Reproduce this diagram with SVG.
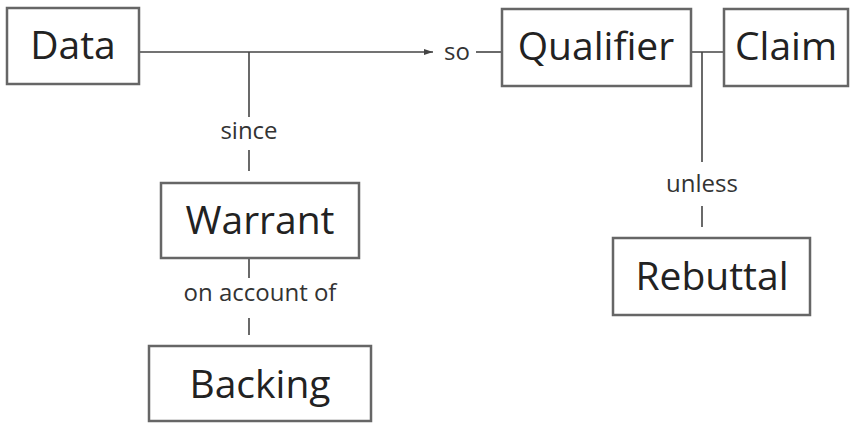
<svg xmlns="http://www.w3.org/2000/svg" width="856" height="423" viewBox="0 0 856 423">
<style>
.box{fill:#fff;stroke:#666;stroke-width:2.5}
.t{font-family:"Open Sans",sans-serif;font-size:39px;fill:#222;text-anchor:middle}
.l{font-family:"Open Sans",sans-serif;font-size:24px;fill:#333;text-anchor:middle}
.c{stroke:#444;stroke-width:1.6;fill:none}
</style>
<defs>
<marker id="ah" markerWidth="10" markerHeight="8" refX="9" refY="4" orient="auto" markerUnits="userSpaceOnUse">
<path d="M0,1 L9,4 L0,7 Z" fill="#444"/>
</marker>
</defs>
<rect width="856" height="423" fill="#fff"/>
<g id="connectors">
<path class="c" d="M139,52 H433" marker-end="url(#ah)"/>
<path class="c" d="M476,52 H502"/>
<path class="c" d="M249,52 V117"/>
<path class="c" d="M249,150 V171"/>
<path class="c" d="M249,258 V278"/>
<path class="c" d="M249,318 V335"/>
<path class="c" d="M691,52 H724"/>
<path class="c" d="M702,52 V162"/>
<path class="c" d="M702,206 V227"/>
<text class="l" x="457" y="60">so</text>
<text class="l" x="249" y="139">since</text>
<text class="l" x="260" y="301">on account of</text>
<text class="l" x="702" y="192">unless</text>
</g>
<g id="data"><rect class="box" x="7" y="8" width="132" height="76"/><text class="t" x="73" y="59">Data</text></g>
<g id="qualifier"><rect class="box" x="502" y="9" width="189" height="77"/><text class="t" x="596" y="60">Qualifier</text></g>
<g id="claim"><rect class="box" x="724" y="9" width="124" height="77"/><text class="t" x="786" y="60">Claim</text></g>
<g id="warrant"><rect class="box" x="161" y="183" width="198" height="75"/><text class="t" x="260" y="234">Warrant</text></g>
<g id="rebuttal"><rect class="box" x="613" y="238" width="197" height="77"/><text class="t" x="712" y="290">Rebuttal</text></g>
<g id="backing"><rect class="box" x="149" y="346" width="222" height="75"/><text class="t" x="260" y="398">Backing</text></g>
</svg>
